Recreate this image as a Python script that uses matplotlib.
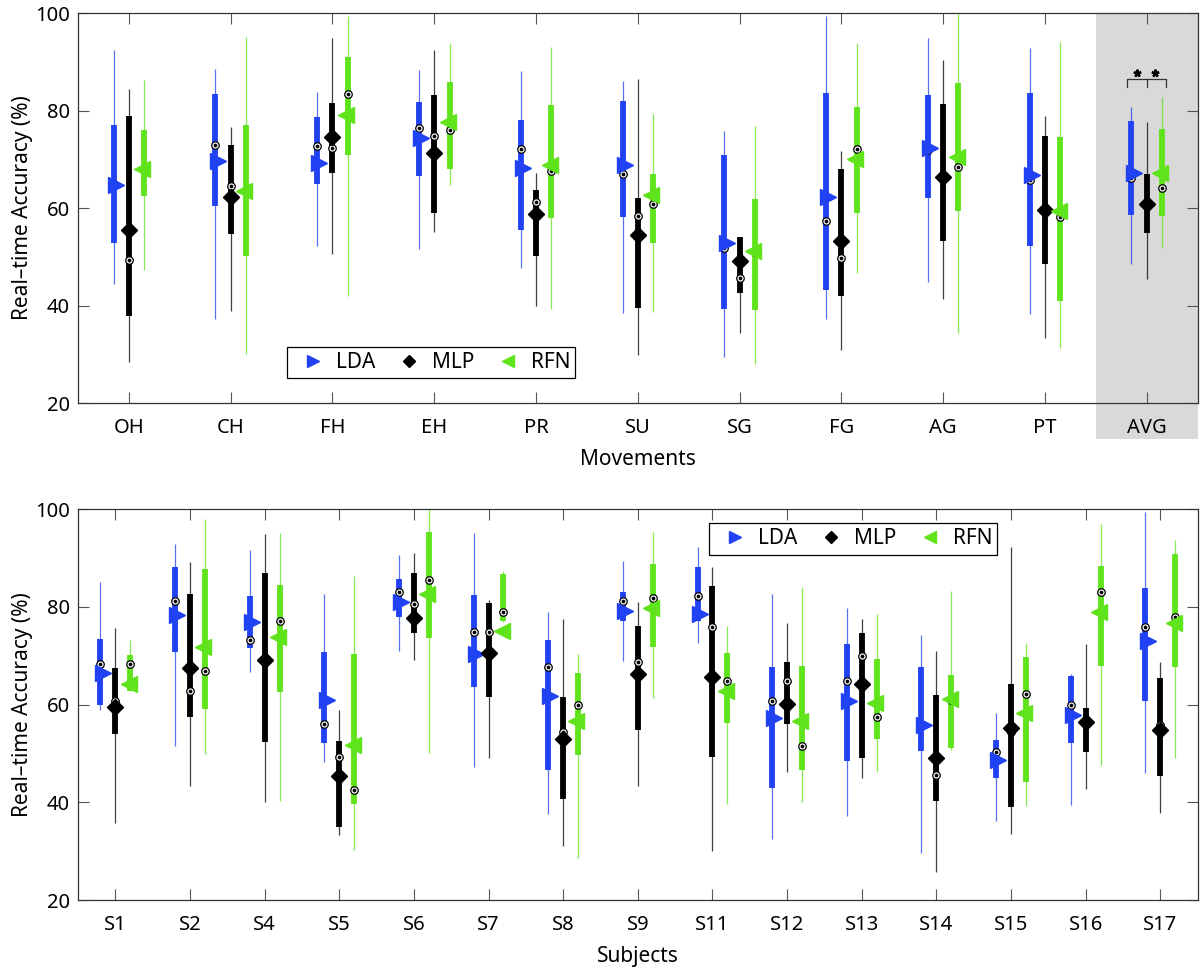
import matplotlib
matplotlib.use('Agg')
import matplotlib.pyplot as plt
from matplotlib.lines import Line2D
from matplotlib.patches import Rectangle
from matplotlib.transforms import offset_copy

plt.rcParams['font.family'] = ['Noto Sans', 'DejaVu Sans']

# ---- top panel: movements ----
movements = ['OH', 'CH', 'FH', 'EH', 'PR', 'SU', 'SG', 'FG', 'AG', 'PT', 'AVG']

mov_lda_lo = [44.4, 37.2, 52.3, 51.7, 47.8, 38.4, 29.5, 37.2, 44.9, 38.2, 48.6]
mov_lda_q1 = [52.8, 60.5, 64.9, 66.6, 55.5, 58.2, 39.3, 43.3, 62.0, 52.3, 58.6]
mov_lda_med = [65.0, 72.9, 72.8, 76.5, 72.2, 66.9, 51.9, 57.3, 72.0, 65.7, 66.1]
mov_lda_mean = [64.7, 69.7, 69.2, 74.3, 68.3, 68.8, 52.8, 62.3, 72.4, 66.8, 67.1]
mov_lda_q3 = [77.0, 83.3, 78.7, 81.8, 78.1, 81.9, 70.9, 83.7, 83.2, 83.6, 77.8]
mov_lda_hi = [92.4, 88.6, 83.9, 88.3, 88.1, 86.1, 75.9, 99.4, 94.9, 92.9, 80.8]

mov_mlp_lo = [28.5, 38.9, 50.6, 55.1, 39.9, 29.8, 34.4, 30.9, 41.3, 33.4, 45.4]
mov_mlp_q1 = [37.9, 54.6, 67.3, 59.0, 50.2, 39.6, 42.6, 41.9, 53.2, 48.6, 54.8]
mov_mlp_med = [49.4, 64.6, 72.3, 74.8, 61.2, 58.4, 45.6, 49.7, 66.5, 59.8, 61.0]
mov_mlp_mean = [55.6, 62.3, 74.5, 71.4, 58.8, 54.5, 49.1, 53.2, 66.3, 59.6, 60.8]
mov_mlp_q3 = [78.9, 72.9, 81.5, 83.2, 63.7, 62.1, 54.0, 68.1, 81.3, 74.8, 67.0]
mov_mlp_hi = [84.4, 76.7, 94.8, 92.4, 67.2, 86.4, 54.0, 71.8, 90.4, 78.9, 77.7]

mov_rfn_lo = [47.4, 30.1, 42.0, 64.7, 39.3, 38.6, 28.1, 46.6, 34.3, 31.4, 51.9]
mov_rfn_q1 = [62.5, 50.2, 70.9, 68.1, 58.0, 52.9, 39.1, 58.9, 59.5, 41.0, 58.4]
mov_rfn_med = [68.0, 63.5, 83.5, 76.0, 67.7, 60.8, 51.0, 72.2, 68.5, 58.2, 64.2]
mov_rfn_mean = [68.0, 63.5, 79.1, 77.7, 68.8, 62.7, 51.2, 70.0, 70.5, 59.5, 67.3]
mov_rfn_q3 = [76.1, 77.0, 91.0, 85.9, 81.1, 67.0, 61.8, 80.7, 85.6, 74.6, 76.2]
mov_rfn_hi = [86.3, 95.0, 99.4, 93.9, 93.1, 79.4, 76.9, 93.8, 99.8, 94.0, 82.7]

# ---- bottom panel: subjects ----
subjects = ['S1', 'S2', 'S4', 'S5', 'S6', 'S7', 'S8', 'S9', 'S11', 'S12',
            'S13', 'S14', 'S15', 'S16', 'S17']

sub_lda_lo = [58.9, 51.6, 66.7, 48.3, 70.9, 47.3, 37.5, 69.0, 72.5, 32.4, 37.2, 29.7, 36.2, 39.4, 45.9]
sub_lda_q1 = [59.8, 70.8, 71.6, 52.2, 78.0, 63.6, 46.6, 77.1, 77.1, 43.0, 48.4, 50.5, 45.0, 52.2, 60.7]
sub_lda_med = [68.2, 81.2, 73.3, 56.1, 83.1, 74.8, 67.6, 81.2, 82.3, 60.7, 64.8, 56.0, 50.3, 59.8, 75.9]
sub_lda_mean = [66.4, 78.3, 76.9, 61.0, 81.0, 70.3, 61.8, 79.1, 78.5, 57.2, 60.7, 55.9, 48.6, 57.8, 73.0]
sub_lda_q3 = [73.5, 88.2, 82.2, 70.7, 85.6, 82.4, 73.2, 83.1, 88.2, 67.6, 72.4, 67.6, 52.7, 65.9, 83.8]
sub_lda_hi = [85.0, 92.8, 91.6, 82.7, 90.6, 95.0, 78.9, 89.4, 92.3, 82.7, 79.7, 74.2, 58.2, 66.2, 99.3]

sub_mlp_lo = [35.7, 43.4, 40.0, 33.3, 69.2, 49.0, 31.0, 43.4, 30.0, 46.1, 44.9, 25.8, 33.6, 42.8, 37.9]
sub_mlp_q1 = [54.0, 57.5, 52.3, 34.9, 74.6, 61.6, 40.7, 54.8, 49.2, 56.1, 49.1, 40.2, 39.1, 50.2, 45.4]
sub_mlp_med = [60.8, 62.8, 69.0, 49.2, 80.6, 74.8, 54.3, 68.8, 75.8, 64.8, 69.9, 45.6, 54.3, 56.5, 55.8]
sub_mlp_mean = [59.5, 67.5, 69.2, 45.4, 77.8, 70.6, 52.9, 66.2, 65.7, 60.1, 64.2, 49.0, 55.1, 56.5, 54.8]
sub_mlp_q3 = [67.4, 82.6, 87.0, 52.6, 87.0, 80.7, 61.5, 76.1, 84.2, 68.6, 74.6, 61.9, 64.2, 59.2, 65.5]
sub_mlp_hi = [75.7, 89.2, 94.8, 58.9, 90.9, 81.4, 77.5, 80.9, 88.2, 76.7, 77.4, 71.0, 92.3, 72.3, 68.8]

sub_rfn_lo = [62.8, 49.8, 40.2, 30.2, 50.1, 76.9, 28.5, 61.4, 39.6, 40.1, 46.2, 50.7, 39.3, 47.7, 49.0]
sub_rfn_q1 = [62.8, 59.1, 62.5, 39.6, 73.7, 77.1, 49.7, 71.8, 56.3, 46.6, 52.9, 51.0, 44.2, 67.9, 67.7]
sub_rfn_med = [68.2, 66.8, 77.1, 42.6, 85.5, 78.9, 59.8, 81.7, 64.8, 51.5, 57.5, 61.0, 62.1, 83.1, 78.0]
sub_rfn_mean = [64.2, 71.8, 73.9, 51.7, 82.6, 75.0, 56.6, 79.7, 62.8, 56.6, 60.4, 61.1, 58.2, 78.9, 76.7]
sub_rfn_q3 = [70.1, 87.7, 84.4, 70.3, 95.2, 86.7, 66.4, 88.7, 70.5, 67.9, 69.4, 66.0, 69.8, 88.4, 90.8]
sub_rfn_hi = [73.1, 98.0, 95.0, 86.2, 100.0, 87.3, 70.3, 95.2, 76.1, 84.1, 78.5, 83.3, 72.6, 96.9, 93.7]

methods = ['LDA', 'MLP', 'RFN']
colors = {'LDA': '#2142f2', 'MLP': 'black', 'RFN': '#5fe31a'}
markers = {'LDA': '>', 'MLP': 'D', 'RFN': '<'}
msizes = {'LDA': 11, 'MLP': 8.5, 'RFN': 11}
# small sideways nudge (points) of the mean triangles, as in the original
nudge = {'LDA': 1.6, 'MLP': 0.0, 'RFN': -1.2}


def draw_compact_box(ax, x, lo, q1, med, mean, q3, hi, name, mtrans):
    c = colors[name]
    ax.vlines(x, lo, hi, color=c, lw=0.9, alpha=0.75, zorder=2)
    ax.vlines(x, q1, q3, color=c, lw=4.2, zorder=3)
    ax.plot(x, med, 'o', ms=5.4, mfc='white', mec='black', mew=0.9, zorder=4)
    ax.plot(x, med, 'o', ms=1.7, color='black', zorder=4.1)
    ax.plot(x, mean, markers[name], ms=msizes[name], color=c, mec=c,
            zorder=5, transform=mtrans)


def style_axes(ax, labels, xlabel):
    ax.set_xlim(0.5, len(labels) + 0.5)
    ax.set_ylim(20, 100)
    ax.set_yticks([20, 40, 60, 80, 100])
    ax.set_xticks(range(1, len(labels) + 1))
    ax.set_xticklabels(labels)
    ax.tick_params(direction='in', length=8, width=0.8, colors='#555555',
                   labelcolor='black', labelsize=14.5, top=True, right=True)
    ax.tick_params(axis='x', pad=11)
    ax.tick_params(axis='y', pad=6)
    for s in ax.spines.values():
        s.set_color('#333333')
        s.set_linewidth(0.9)
    ax.set_ylabel('Real\u2013time Accuracy (%)', fontsize=15, labelpad=1)
    ax.set_xlabel(xlabel, fontsize=15, labelpad=8)


def draw_panel(ax, stats, offset):
    for name, off in zip(methods, [-offset, 0, offset]):
        mtrans = offset_copy(ax.transData, fig=ax.figure, x=nudge[name],
                             y=0, units='points')
        lo, q1, med, mean, q3, hi = stats[name]
        for i in range(len(lo)):
            draw_compact_box(ax, i + 1 + off, lo[i], q1[i], med[i], mean[i],
                             q3[i], hi[i], name, mtrans)


def add_legend(ax, loc, anchor):
    handles = [Line2D([], [], ls='none', marker=markers[m], color=colors[m],
                      ms=msizes[m] - 2, label=m) for m in methods]
    leg = ax.legend(handles=handles, ncol=3, loc=loc, bbox_to_anchor=anchor,
                    fontsize=15, frameon=True, fancybox=False,
                    edgecolor='black', handlelength=2.0, handletextpad=0.1,
                    columnspacing=0.6, borderpad=0.25, borderaxespad=0)
    leg.get_frame().set_linewidth(0.9)
    leg.get_frame().set_alpha(1)
    return leg


fig = plt.figure(figsize=(12, 9.69), dpi=100)
ax1 = fig.add_axes([0.065, 0.584, 0.933, 0.4025])
ax2 = fig.add_axes([0.065, 0.0712, 0.933, 0.4035])

# top
ax1.add_patch(Rectangle((10.5, 12.6), 1, 87.4, facecolor='#d9d9d9',
                        edgecolor='none', clip_on=False, zorder=0))
draw_panel(ax1, {
    'LDA': (mov_lda_lo, mov_lda_q1, mov_lda_med, mov_lda_mean, mov_lda_q3, mov_lda_hi),
    'MLP': (mov_mlp_lo, mov_mlp_q1, mov_mlp_med, mov_mlp_mean, mov_mlp_q3, mov_mlp_hi),
    'RFN': (mov_rfn_lo, mov_rfn_q1, mov_rfn_med, mov_rfn_mean, mov_rfn_q3, mov_rfn_hi),
}, 0.15)
style_axes(ax1, movements, 'Movements')

# significance bracket on AVG
xa = len(movements)
ax1.plot([xa - 0.19, xa - 0.19, xa + 0.19, xa + 0.19],
         [84.9, 86.5, 86.5, 84.9], color='#333333', lw=0.9)
ax1.plot([xa, xa], [84.9, 86.5], color='#333333', lw=0.9)
ax1.plot([xa - 0.1, xa + 0.08], [87.7, 87.7], ls='none', marker=(5, 2, 0),
         ms=5.5, mew=1.6, color='black')

add_legend(ax1, 'upper left', (0.187, 0.144))

# bottom
draw_panel(ax2, {
    'LDA': (sub_lda_lo, sub_lda_q1, sub_lda_med, sub_lda_mean, sub_lda_q3, sub_lda_hi),
    'MLP': (sub_mlp_lo, sub_mlp_q1, sub_mlp_med, sub_mlp_mean, sub_mlp_q3, sub_mlp_hi),
    'RFN': (sub_rfn_lo, sub_rfn_q1, sub_rfn_med, sub_rfn_mean, sub_rfn_q3, sub_rfn_hi),
}, 0.2)
style_axes(ax2, subjects, 'Subjects')

add_legend(ax2, 'upper left', (0.564, 0.964))

fig.savefig('out.png', dpi=100)
